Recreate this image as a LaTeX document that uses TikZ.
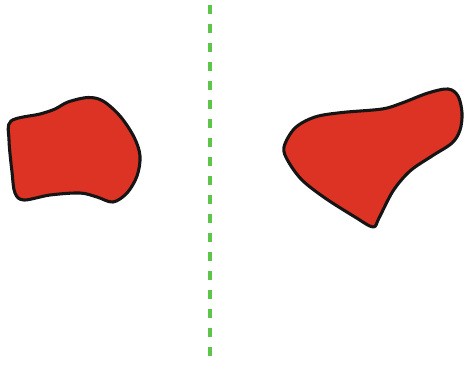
\documentclass[tikz,border=0pt]{standalone}
\definecolor{cred}{HTML}{DC3324}
\definecolor{cgreen}{HTML}{5EC44A}
\definecolor{cline}{HTML}{151515}
\tikzset{
  blob/.style={fill=cred, draw=cline, line width=1.75pt, line join=round},
  divider/.style={draw=cgreen, line width=2.2pt, dash pattern=on 0.18cm off 0.2cm},
}
\begin{document}
\begin{tikzpicture}[x=0.02cm, y=-0.02cm]
  \useasboundingbox (0,0) rectangle (465,369);
  % dashed divider
  \coordinate (top) at (210,5);
  \coordinate (bottom) at (210,365);
  \draw[divider] (top) -- (bottom);
  % left shape
  \draw[blob] plot[smooth cycle, tension=0.55] coordinates {
    (11,121) (40,114) (55,109) (68,102) (88,97.5) (103,101) (120,116)
    (134,137) (140,156) (137,176) (127,193) (113,202) (97,197) (80,193)
    (50,195) (24,200) (15,193) (12,172) (9,140)};
  % right shape
  \draw[blob] plot[smooth cycle, tension=0.55] coordinates {
    (284,147) (295,128) (315,117) (342,112.5) (382,109) (402,103) (428,93)
    (448,89) (458,96) (462,113) (460,130) (452,143) (432,156) (410,171)
    (393,191) (379,218) (373,227) (355,217) (325,198) (302,180) (288,161)};
\end{tikzpicture}
\end{document}
